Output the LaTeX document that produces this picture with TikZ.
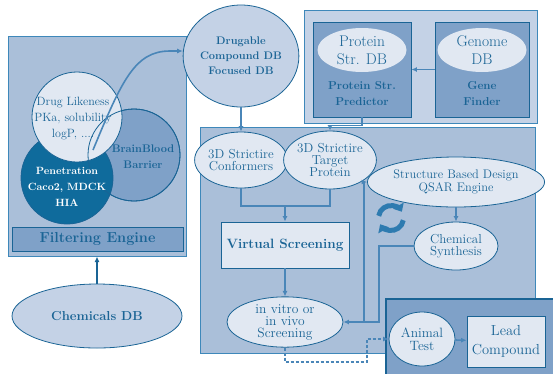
\documentclass[tikz,border=0pt]{standalone}
\usepackage{fontspec}
\usetikzlibrary{shapes.geometric,arrows.meta}

\definecolor{txtblue}{HTML}{1A6495}
\definecolor{frameblue}{HTML}{3E88BA}
\definecolor{lineblue}{HTML}{4A86B8}
\definecolor{fillA}{HTML}{E1E8F2}
\definecolor{fillB}{HTML}{C4D2E6}
\definecolor{fillC}{HTML}{AABFD9}
\definecolor{fillD}{HTML}{7FA1C8}
\definecolor{penblue}{HTML}{0F6B9C}
\definecolor{iconblue}{HTML}{2E7BB0}

\newcommand{\fs}[2]{\fontsize{#1}{#2}\selectfont}

\begin{document}
\begin{tikzpicture}[x=1pt, y=-1pt, >={Latex[length=5.5pt,width=5pt]},
  lbl/.style={text=txtblue, align=center},
  oval/.style={ellipse, draw=txtblue, line width=0.8pt, fill=fillA, inner sep=0pt, text=txtblue, align=center},
  boxnode/.style={rectangle, draw=txtblue, line width=0.8pt, inner sep=0pt, text=txtblue, align=center},
  conn/.style={draw=lineblue, line width=1.6pt},
  dotconn/.style={draw=lineblue, line width=1.6pt, dash pattern=on 3pt off 2pt}]
  \useasboundingbox (0,0) rectangle (553,373);

  % 左：フィルタリングエンジン
  \node[boxnode, fill=fillC, draw=frameblue, line width=1pt, minimum width=178, minimum height=220] (filterbox) at (97,146) {};
  \node[boxnode, fill=fillD, line width=1pt, minimum width=171, minimum height=24, font=\bfseries\fs{14.5}{16}] (filter) at (97.5,239) {Filtering Engine};

  % 三つの円（重なり）
  \node[circle, fill=fillD, draw=txtblue, line width=0.8pt, minimum size=92, inner sep=0] (bbb) at (134,155) {};
  \node[circle, fill=penblue, draw=txtblue, line width=0.8pt, minimum size=92, inner sep=0] (pen) at (67,178) {};
  \node[circle, fill=fillA, draw=txtblue, line width=0.8pt, minimum size=90, inner sep=0] (drug) at (77,117) {};
  \node[circle, draw=txtblue, line width=0.8pt, minimum size=92, inner sep=0] at (bbb) {};
  \node[lbl, font=\fs{12}{16}] (drugtext) at (73,119) {Drug Likeness\\PKa, solubility\\logP, ....};
  \node[lbl, font=\bfseries\fs{11}{16}] (bbbtext) at (143,157) {BrainBlood\\Barrier};
  \node[lbl, text=white, font=\bfseries\fs{10.5}{16}] (pentext) at (67,187) {Penetration\\Caco2, MDCK\\HIA};

  % 化合物DB
  \node[oval, fill=fillB, minimum width=170, minimum height=64, font=\bfseries\fs{13}{15}] (chemdb) at (97,316) {Chemicals DB};
  \draw[conn, draw=txtblue, ->] (chemdb) -- (filterbox);

  % 中央上：Drugable DB
  \node[oval, fill=fillB, minimum width=96, minimum height=102, font=\bfseries\fs{11}{15}] (drugable) at (241,56) {Drugable\\Compound DB\\Focused DB};
  \coordinate (fstart) at (93,150);
  \draw[conn, ->] (fstart) .. controls (122,80) and (135,51) .. (170,51) -- (drugable.west |- 0,51);

  % 右上：タンパク質構造
  \draw[fill=fillB, draw=frameblue, line width=1pt] (304,10) rectangle (537,123);
  \node[boxnode, fill=fillD, minimum width=98, minimum height=95] (predbox) at (362,69.5) {};
  \node[boxnode, fill=fillD, minimum width=94, minimum height=95] (genebox) at (482,69.5) {};
  \node[oval, draw=none, minimum width=89, minimum height=44, font=\fs{15.5}{18}] (protdb) at (362,50) {Protein\\Str. DB};
  \node[oval, draw=none, minimum width=89, minimum height=44, font=\fs{15.5}{18}] (genomedb) at (482,50) {Genome\\DB};
  \node[lbl, font=\bfseries\fs{11.5}{16}] (predtext) at (362,94) {Protein Str.\\Predictor};
  \node[lbl, font=\bfseries\fs{11.5}{16}] (genetext) at (482,94) {Gene\\Finder};
  \draw[conn, ->] (genebox) -- (predbox);

  % 右側の大きな領域
  \draw[fill=fillC, draw=frameblue, line width=1pt] (200,127) rectangle (535,353);

  \node[oval, minimum width=74, minimum height=56, font=\fs{13}{12}] (conf) at (241,160) {3D Strictire\\Conformers};
  \node[oval, minimum width=86, minimum height=58, font=\fs{13}{12}] (target) at (330,160) {3D Strictire\\Target\\Protein};
  \node[boxnode, fill=fillA, minimum width=128, minimum height=46, font=\bfseries\fs{13.5}{15}] (vs) at (285,245) {Virtual Screening};
  \node[oval, minimum width=116, minimum height=48, font=\fs{13.5}{12}] (invitro) at (285,322) {in vitro or\\in vivo\\Screening};
  \node[oval, minimum width=146, minimum height=50, font=\fs{12.4}{13}] (sbd) at (456,182) {Structure Based Design\\QSAR Engine};
  \node[oval, minimum width=84, minimum height=48, font=\fs{13}{12.5}] (chemsyn) at (456,246) {Chemical\\Synthesis};

  % 接続線
  \draw[conn, ->] (drugable) -- (conf);
  \draw[conn, ->] (predbox.south) -- ++(0,8) -| (target.north);
  \coordinate (join) at (285,206);
  \draw[conn] (conf.south) |- (join);
  \draw[conn] (target.south) |- (join);
  \draw[conn, ->] (join) -- (vs.north);
  \draw[conn, ->] (vs) -- (invitro);
  \draw[conn, ->] (sbd) -- (chemsyn);
  \coordinate (loopA) at (379,322);
  \coordinate (loopB) at (364,322);
  \draw[conn, ->] (chemsyn.west) -| (loopA) -- (invitro.east);
  \draw[conn, ->] (loopB) |- (sbd.west);

  % 循環アイコン
  \draw[iconblue, line width=5pt, -{Triangle[length=7pt,width=12pt]}] (391,218) ++(190:12.5) arc[start angle=190, end angle=330, radius=12.5];
  \draw[iconblue, line width=5pt, -{Triangle[length=7pt,width=12pt]}] (391,218) ++(10:12.5) arc[start angle=10, end angle=150, radius=12.5];

  % 右下：リード化合物
  \draw[fill=fillD, draw=txtblue, line width=1.8pt] (386,299) rectangle (565,385);
  \node[oval, minimum width=66, minimum height=54, font=\fs{13.5}{12.5}] (animal) at (422,339) {Animal\\Test};
  \node[boxnode, fill=fillA, minimum width=78, minimum height=51, font=\fs{14.5}{19}] (lead) at (506,341.5) {Lead\\Compound};
  \draw[conn, ->] (animal) -- (lead);
  \coordinate (dotA) at (367,362);
  \draw[dotconn, ->] (invitro.south) |- (dotA) |- (animal.west);

\end{tikzpicture}
\end{document}
